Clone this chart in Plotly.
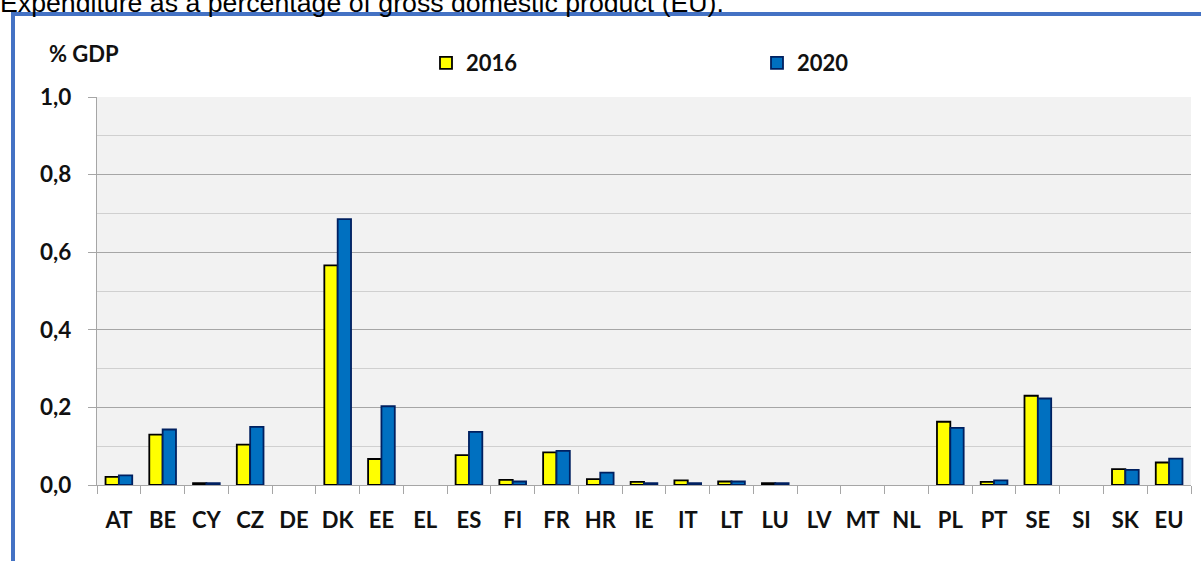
import plotly.graph_objects as go

# Expenditure as % of GDP by member state
countries = ["AT", "BE", "CY", "CZ", "DE", "DK", "EE", "EL", "ES", "FI", "FR", "HR", "IE",
             "IT", "LT", "LU", "LV", "MT", "NL", "PL", "PT", "SE", "SI", "SK", "EU"]
values_2016 = [0.021, 0.130, 0.005, 0.104, 0, 0.566, 0.067, 0, 0.077, 0.013, 0.084, 0.015, 0.008,
               0.012, 0.009, 0.005, 0, 0, 0, 0.163, 0.008, 0.230, 0, 0.041, 0.058]
values_2020 = [0.025, 0.143, 0.005, 0.150, 0, 0.685, 0.203, 0, 0.137, 0.009, 0.088, 0.032, 0.005,
               0.005, 0.009, 0.005, 0, 0, 0, 0.147, 0.012, 0.223, 0, 0.039, 0.068]
y_ticks = [0.0, 0.2, 0.4, 0.6, 0.8, 1.0]

W, H = 1201, 561
L, R, T, B = 97, 10, 97, 76
PW, PH = W - L - R, H - T - B


def px(x):
    return (x - L) / PW


def py(y):
    return (H - B - y) / PH


def outline_widths(values, w=1.8):
    # no outline on empty bars so they don't leave a stroke on the axis
    return [w if v > 0 else 0 for v in values]


FONT = "Lato"
TXT = "#111111"

fig = go.Figure()
fig.add_trace(go.Bar(
    x=countries, y=values_2016, name="2016", legend="legend", showlegend=True,
    marker=dict(color="#FFFF00",
                line=dict(color="#000000", width=outline_widths(values_2016))),
))
fig.add_trace(go.Bar(
    x=countries, y=values_2020, name="2020", legend="legend2", showlegend=True,
    marker=dict(color="#0070C0",
                line=dict(color="#002060", width=outline_widths(values_2020))),
))

legend_common = dict(
    orientation="h", yanchor="middle", xanchor="left",
    font=dict(family=FONT, size=22, color=TXT, weight="bold"),
    bgcolor="rgba(0,0,0,0)", borderwidth=0, visible=True,
)

fig.update_layout(
    width=W, height=H,
    margin=dict(l=L, r=R, t=T, b=B, pad=0, autoexpand=False),
    paper_bgcolor="white",
    plot_bgcolor="#F2F2F2",
    separators=", ",
    barmode="group",
    bargap=0.39,
    bargroupgap=0,
    showlegend=True,
    legend=dict(x=px(426), y=py(63), **legend_common),
    legend2=dict(x=px(757), y=py(63), **legend_common),
    xaxis=dict(
        type="category",
        tickson="boundaries",
        tickangle=0,
        automargin=False,
        ticks="outside", ticklen=8, tickwidth=1.3, tickcolor="#A6A6A6",
        showline=True, linecolor="#A6A6A6", linewidth=1.3,
        showgrid=False,
        tickfont=dict(family=FONT, size=22, color=TXT, weight="bold"),
        ticklabelstandoff=15,
    ),
    yaxis=dict(
        range=[0, 1],
        tickvals=y_ticks,
        tickformat=".1f",
        automargin=False,
        ticks="outside", ticklen=8, tickwidth=1.3, tickcolor="#A6A6A6",
        showline=True, linecolor="#A6A6A6", linewidth=1.3,
        showgrid=True, gridcolor="#A6A6A6", gridwidth=1.3,
        minor=dict(dtick=0.1, showgrid=True, gridcolor="#D0D0D0", gridwidth=1.3, ticks=""),
        zeroline=False,
        tickfont=dict(family=FONT, size=22.5, color=TXT, weight="bold"),
        ticklabelstandoff=12,
    ),
    annotations=[
        dict(text="% GDP", xref="paper", yref="paper", x=px(47), y=py(54),
             xanchor="left", yanchor="middle", showarrow=False,
             font=dict(family=FONT, size=22, color=TXT, weight="bold")),
        dict(text="Expenditure as a percentage of gross domestic product (EU).",
             xref="paper", yref="paper", x=px(-2), y=py(3),
             xanchor="left", yanchor="middle", showarrow=False,
             font=dict(family="Liberation Sans", size=26.7, color="#000000")),
    ],
    shapes=[
        dict(type="rect", xref="paper", yref="paper",
             x0=px(13), y0=py(14), x1=px(1220), y1=py(580),
             line=dict(color="#4472C4", width=4), fillcolor="rgba(0,0,0,0)"),
    ],
)

fig.write_html("out.html")
